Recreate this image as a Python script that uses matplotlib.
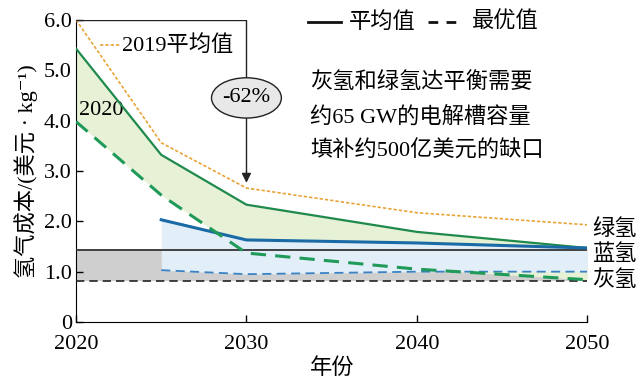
import matplotlib
matplotlib.use("Agg")
import matplotlib.pyplot as plt
from matplotlib.patches import Ellipse
from matplotlib.lines import Line2D

plt.rcParams['font.family'] = ['Liberation Serif', 'Noto Sans CJK SC', 'DejaVu Serif']
plt.rcParams['font.size'] = 16

# data
years = [2020, 2025, 2030, 2040, 2050]
avg_2019 = [6.0, 3.56, 2.66, 2.17, 1.93]
green_avg = [5.43, 3.32, 2.33, 1.79, 1.47]
green_best = [3.98, 2.52, 1.37, 1.05, 0.84]
blue_years = [2025, 2030, 2040, 2050]
blue_avg = [2.03, 1.63, 1.57, 1.47]
blue_best = [1.03, 0.95, 1.0, 1.0]
grey_avg = 1.43
grey_best = 0.81

fig = plt.figure(figsize=(6.44, 3.82), dpi=100)
ax = fig.add_axes([0.118, 0.157, 0.794, 0.791])

# shaded ranges
ax.fill_between([2020, 2050], grey_best, grey_avg, color='#cfcfcf', lw=0, zorder=1)
ax.fill_between(years, green_best, green_avg, color='#e6f1d6', lw=0, zorder=2)
ax.fill_between(blue_years, blue_best, blue_avg, color='#e2eef8', lw=0, zorder=3)

# lines
ax.plot(years, avg_2019, ls=(0, (2, 1.2)), color='#e8a438', lw=1.2, zorder=5)
ax.plot(years, green_avg, color='#1f8a4c', lw=1.6, zorder=5)
ax.plot(years, green_best, color='#1f9a58', lw=2.2, ls=(0, (5, 3)), zorder=6)
ax.axhline(grey_avg, color='#333333', lw=1.3, zorder=4)
ax.axhline(grey_best, color='#222222', lw=1.2, ls=(0, (5, 3)), zorder=4)
ax.plot(blue_years, blue_avg, color='#1a6aa6', lw=2.2, zorder=5)
ax.plot(blue_years, blue_best, color='#3a82c4', lw=1.3, ls=(0, (5, 3)), zorder=5)

# -62% annotation
ax.plot([2020, 2030, 2030], [6.0, 6.0, 3.0], color='#222222', lw=1.0, zorder=7)
ax.annotate('', xy=(2030, avg_2019[2] + 0.05), xytext=(2030, 3.05),
            arrowprops=dict(arrowstyle='-|>', color='#222222', lw=1.0,
                            mutation_scale=14), zorder=7)
ax.add_patch(Ellipse((2030, 4.45), 4.1, 0.8, facecolor='#e8e8e8',
                     edgecolor='#222222', lw=1.0, zorder=8))
ax.text(2030, 4.45, '-62%', ha='center', va='center', fontsize=16, zorder=9)

# legends and notes
ax.plot([2021.4, 2022.6], [5.5, 5.5], ls=(0, (2, 1.2)), color='#e8a438', lw=1.2)
ax.text(2022.7, 5.5, '2019平均值', va='center', fontsize=16)
ax.text(2020.2, 4.2, '2020', va='center', fontsize=16)

ly = 1 - 22 / 382
fig.add_artist(Line2D([308 / 644, 341 / 644], [ly, ly], color='#111111', lw=2.0))
fig.text(349 / 644, ly, '平均值', fontsize=16, va='center')
fig.add_artist(Line2D([428 / 644, 464 / 644], [ly, ly], color='#111111', lw=2.0,
                      ls=(0, (3.5, 3))))
fig.text(472 / 644, ly, '最优值', fontsize=16, va='center')

fig.text(0.482, 1 - 117 / 382, '灰氢和绿氢达平衡需要\n约65 GW的电解槽容量\n填补约500亿美元的缺口',
         fontsize=16, va='center', linespacing=1.8)

fig.text(0.92, 1 - 230 / 382, '绿氢', fontsize=16, va='center')
fig.text(0.92, 1 - 255 / 382, '蓝氢', fontsize=16, va='center')
fig.text(0.92, 1 - 281 / 382, '灰氢', fontsize=16, va='center')

# axes
ax.set_xlim(2020, 2050)
ax.set_ylim(0, 6)
ax.set_xticks([2020, 2030, 2040, 2050])
ax.set_yticks([0, 1, 2, 3, 4, 5, 6])
ax.set_yticklabels(['0', '1.0', '2.0', '3.0', '4.0', '5.0', '6.0'])
ax.tick_params(direction='in', length=5, width=1)
ax.tick_params(axis='x', pad=9)
ax.tick_params(axis='y', pad=3)
ax.spines['top'].set_visible(False)
ax.spines['right'].set_visible(False)
ax.set_xlabel('年份', fontsize=16, labelpad=3)
ax.set_ylabel('氢气成本/(美元 · kg⁻¹)', fontsize=16, labelpad=4)
ax.patch.set_alpha(0)

fig.savefig('out.png', dpi=100)
